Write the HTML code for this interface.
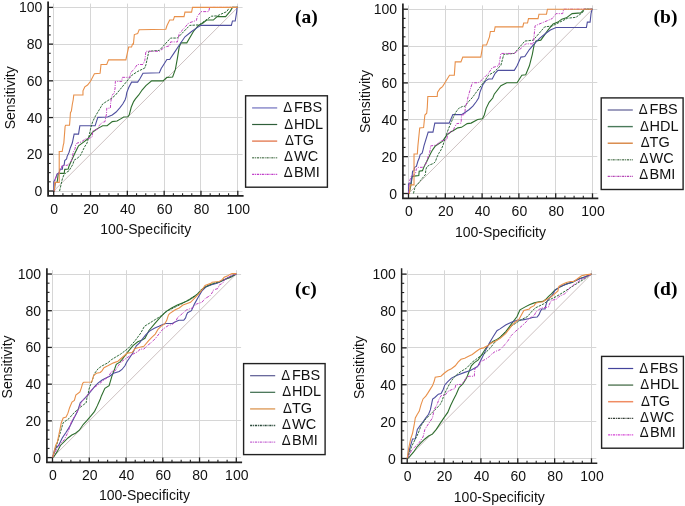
<!DOCTYPE html>
<html><head><meta charset="utf-8"><style>
html,body{margin:0;padding:0;background:#fff;}
svg{display:block;will-change:transform;}
.t{font-family:"Liberation Sans", sans-serif;font-size:14px;fill:#111;}
.l{font-family:"Liberation Sans", sans-serif;font-size:14.5px;fill:#111;}
.p{font-family:"Liberation Serif", serif;font-weight:bold;font-size:19.5px;fill:#000;}
</style></head><body>
<svg width="685" height="506" viewBox="0 0 685 506">
<rect width="685" height="506" fill="#fff"/>
<g id="pa"><line x1="53.5" y1="3.6" x2="53.5" y2="195.8" stroke="#d6d6d6" stroke-width="1"/>
<line x1="48.1" y1="191.5" x2="242.6" y2="191.5" stroke="#d6d6d6" stroke-width="1"/>
<line x1="90.5" y1="3.6" x2="90.5" y2="195.8" stroke="#d6d6d6" stroke-width="1"/>
<line x1="48.1" y1="154.5" x2="242.6" y2="154.5" stroke="#d6d6d6" stroke-width="1"/>
<line x1="127.5" y1="3.6" x2="127.5" y2="195.8" stroke="#d6d6d6" stroke-width="1"/>
<line x1="48.1" y1="117.5" x2="242.6" y2="117.5" stroke="#d6d6d6" stroke-width="1"/>
<line x1="164.5" y1="3.6" x2="164.5" y2="195.8" stroke="#d6d6d6" stroke-width="1"/>
<line x1="48.1" y1="80.5" x2="242.6" y2="80.5" stroke="#d6d6d6" stroke-width="1"/>
<line x1="200.5" y1="3.6" x2="200.5" y2="195.8" stroke="#d6d6d6" stroke-width="1"/>
<line x1="48.1" y1="44.5" x2="242.6" y2="44.5" stroke="#d6d6d6" stroke-width="1"/>
<line x1="237.5" y1="3.6" x2="237.5" y2="195.8" stroke="#d6d6d6" stroke-width="1"/>
<line x1="48.1" y1="7.5" x2="242.6" y2="7.5" stroke="#d6d6d6" stroke-width="1"/>
<line x1="53.7" y1="191" x2="237.8" y2="7.4" stroke="#c4b6b6" stroke-width="0.85"/>
<polyline points="53.7,191 54.25,191 55.17,182.92 57.2,182 58.3,173.37 64.19,173.37 64.75,169.34 68.24,168.97 68.98,166.21 71.74,159.97 74.5,153.91 77.08,148.77 78.55,145.83 82.24,143.08 87.57,139.04 92.36,132.43 96.23,129.49 97.99,128.39 102.67,125.82 107.09,125.64 112.24,121.6 117.03,121.05 120.71,118.85 123.66,117.01 127.89,116.83 129.37,114.44 131.21,107.28 133.6,101.59 135.44,98.83 138.75,94.98 142.07,90.02 145.93,85.61 151.64,80.84 163.06,80.84 166.92,77.35 172.63,76.98 175.39,69.46 177.42,58.07 179.26,46.69 181.1,42.83 186.8,42.83 193.43,31.45 198.22,25.76 203.01,23.01 206.69,20.07 213.31,20.07 217.18,16.58 225.65,16.58 230.44,10.89 232.46,7.4 237.8,7.4" fill="none" stroke="#2e6e2e" stroke-width="1.1" stroke-linejoin="miter"/>
<polyline points="53.7,191 53.79,191 53.79,181.82 55.69,178.15 57.11,173.93 59.04,173.37 59.96,169.15 62.35,169.15 62.81,165.85 64.19,164.93 64.75,160.52 66.59,159.05 67.14,156.3 68.98,152.44 70.4,147.67 72.29,143.08 74.14,134.08 78.55,134.08 79.84,125.82 95.12,125.82 96.41,121.6 97.88,117.38 107.46,117.01 112.24,114.99 116.11,112.05 119.79,107.83 122.74,103.97 125.13,99.75 126.05,96.81 126.79,92.59 128.63,87.82 131.57,82.13 137.65,82.13 140.04,78.45 142.99,73.31 159.37,72.76 161.21,68.54 166.92,59.54 169.68,59.54 174.47,52.38 180.18,43.75 184.96,36.78 191.59,31.45 196.38,28.15 200.98,25.39 231.36,25.39 232.46,20.99 235.22,20.99 236.7,11.62 237.06,7.4 237.8,7.4" fill="none" stroke="#4f4f9f" stroke-width="1.1" stroke-linejoin="miter"/>
<polyline points="59.59,191 62.35,178.88 63.83,175.03 65.85,172.82 68.98,170.8 72.85,164.38 74.14,160.16 77.45,158.14 80.39,155.57 82.24,151.71 84.63,146.75 87.02,143.08 88.86,136.84 90.89,127.29 92.73,121.6 95.49,115.91 97.88,112.05 102.67,103.97 107.46,100.85 112.24,97.91 115.56,94.98 131.57,75.52 137.28,71.66 144.83,67.99 145.93,64.68 148.88,51.28 159.37,50.36 170.6,38.06 177.42,38.06 189.75,25.39 199.14,24.84 211.47,16.21 217.18,15.85 226.75,11.62 229.52,7.4 237.8,7.4" fill="none" stroke="#2f6a3a" stroke-width="1.0" stroke-dasharray="2.5,1" stroke-linejoin="miter"/>
<polyline points="53.7,191 54.62,191 55.17,179.07 57.12,174.29 59.96,171.54 61.43,168.6 61.8,165.85 63.27,165.3 67.14,165.3 68.43,164.38 70.45,161.99 71.74,160.16 73.21,152.44 75.06,148.77 75.61,144.92 77.08,143.08 81.31,141.98 85.18,139.04 89.78,138.12 92.18,136.84 92.73,130.96 95.49,129.86 97.88,129.13 99.36,125.27 102.3,122.52 105.06,121.6 105.62,117.74 106.54,113.89 106.72,108.2 110.4,108.2 110.59,103.61 111.32,98.83 112.24,94.98 113.53,93.69 114.45,93.14 114.45,90.39 115.01,89.1 115.37,81.39 121.82,81.39 122.19,77.35 129.73,77.35 130.65,73.13 131.94,71.29 134.34,68.91 137.28,64.5 142.99,64.5 144.83,60.28 145.93,51.28 159.37,51.28 164.9,47.06 169.68,45.77 170.6,41.92 177.42,41.92 179.26,33.29 182.94,29.62 188.65,23.01 196.38,20.44 197.3,16.58 200.98,11.62 208.71,11.62 209.63,7.4 237.8,7.4" fill="none" stroke="#c040c0" stroke-width="1.0" stroke-dasharray="3,1.2,1,1.2" stroke-linejoin="miter"/>
<polyline points="53.7,191 54.25,191 54.8,182.37 59.22,182.37 59.22,151.53 62.17,151.53 63.27,145.1 63.83,143.08 65.11,126.37 65.67,125.27 69.53,125.27 69.9,120.68 70.45,112.6 71.37,111.13 72.29,104.52 73.21,99.75 73.77,94.98 82.97,94.98 82.97,90.75 84.81,86.9 87.57,85.06 90.52,81.21 94.39,73.68 100.09,73.31 101.01,64.5 106.72,64.5 108.56,59.91 125.87,59.91 128.63,47.06 131.57,47.06 132.49,44.12 133.42,44.12 134.34,34.57 137.65,33.65 139.12,29.8 165.82,29.25 166.92,25.76 169.68,20.07 173.37,20.07 174.47,16.58 184.04,16.58 184.96,12.17 191.59,12.17 192.51,7.4 237.8,7.4" fill="none" stroke="#e8904a" stroke-width="1.1" stroke-linejoin="miter"/>
<path d="M48.1,1.6 V195.8 H243.6" fill="none" stroke="#222" stroke-width="1.8"/>
<line x1="48.1" y1="191" x2="53.1" y2="191" stroke="#222" stroke-width="1.3"/>
<line x1="53.7" y1="195.8" x2="53.7" y2="190.8" stroke="#222" stroke-width="1.3"/>
<line x1="48.1" y1="181.82" x2="50.7" y2="181.82" stroke="#222" stroke-width="1.1"/>
<line x1="62.91" y1="195.8" x2="62.91" y2="193.2" stroke="#222" stroke-width="1.1"/>
<line x1="48.1" y1="172.64" x2="50.7" y2="172.64" stroke="#222" stroke-width="1.1"/>
<line x1="72.11" y1="195.8" x2="72.11" y2="193.2" stroke="#222" stroke-width="1.1"/>
<line x1="48.1" y1="163.46" x2="50.7" y2="163.46" stroke="#222" stroke-width="1.1"/>
<line x1="81.31" y1="195.8" x2="81.31" y2="193.2" stroke="#222" stroke-width="1.1"/>
<line x1="48.1" y1="154.28" x2="53.1" y2="154.28" stroke="#222" stroke-width="1.3"/>
<line x1="90.52" y1="195.8" x2="90.52" y2="190.8" stroke="#222" stroke-width="1.3"/>
<line x1="48.1" y1="145.1" x2="50.7" y2="145.1" stroke="#222" stroke-width="1.1"/>
<line x1="99.73" y1="195.8" x2="99.73" y2="193.2" stroke="#222" stroke-width="1.1"/>
<line x1="48.1" y1="135.92" x2="50.7" y2="135.92" stroke="#222" stroke-width="1.1"/>
<line x1="108.93" y1="195.8" x2="108.93" y2="193.2" stroke="#222" stroke-width="1.1"/>
<line x1="48.1" y1="126.74" x2="50.7" y2="126.74" stroke="#222" stroke-width="1.1"/>
<line x1="118.14" y1="195.8" x2="118.14" y2="193.2" stroke="#222" stroke-width="1.1"/>
<line x1="48.1" y1="117.56" x2="53.1" y2="117.56" stroke="#222" stroke-width="1.3"/>
<line x1="127.34" y1="195.8" x2="127.34" y2="190.8" stroke="#222" stroke-width="1.3"/>
<line x1="48.1" y1="108.38" x2="50.7" y2="108.38" stroke="#222" stroke-width="1.1"/>
<line x1="136.55" y1="195.8" x2="136.55" y2="193.2" stroke="#222" stroke-width="1.1"/>
<line x1="48.1" y1="99.2" x2="50.7" y2="99.2" stroke="#222" stroke-width="1.1"/>
<line x1="145.75" y1="195.8" x2="145.75" y2="193.2" stroke="#222" stroke-width="1.1"/>
<line x1="48.1" y1="90.02" x2="50.7" y2="90.02" stroke="#222" stroke-width="1.1"/>
<line x1="154.96" y1="195.8" x2="154.96" y2="193.2" stroke="#222" stroke-width="1.1"/>
<line x1="48.1" y1="80.84" x2="53.1" y2="80.84" stroke="#222" stroke-width="1.3"/>
<line x1="164.16" y1="195.8" x2="164.16" y2="190.8" stroke="#222" stroke-width="1.3"/>
<line x1="48.1" y1="71.66" x2="50.7" y2="71.66" stroke="#222" stroke-width="1.1"/>
<line x1="173.37" y1="195.8" x2="173.37" y2="193.2" stroke="#222" stroke-width="1.1"/>
<line x1="48.1" y1="62.48" x2="50.7" y2="62.48" stroke="#222" stroke-width="1.1"/>
<line x1="182.57" y1="195.8" x2="182.57" y2="193.2" stroke="#222" stroke-width="1.1"/>
<line x1="48.1" y1="53.3" x2="50.7" y2="53.3" stroke="#222" stroke-width="1.1"/>
<line x1="191.78" y1="195.8" x2="191.78" y2="193.2" stroke="#222" stroke-width="1.1"/>
<line x1="48.1" y1="44.12" x2="53.1" y2="44.12" stroke="#222" stroke-width="1.3"/>
<line x1="200.98" y1="195.8" x2="200.98" y2="190.8" stroke="#222" stroke-width="1.3"/>
<line x1="48.1" y1="34.94" x2="50.7" y2="34.94" stroke="#222" stroke-width="1.1"/>
<line x1="210.19" y1="195.8" x2="210.19" y2="193.2" stroke="#222" stroke-width="1.1"/>
<line x1="48.1" y1="25.76" x2="50.7" y2="25.76" stroke="#222" stroke-width="1.1"/>
<line x1="219.39" y1="195.8" x2="219.39" y2="193.2" stroke="#222" stroke-width="1.1"/>
<line x1="48.1" y1="16.58" x2="50.7" y2="16.58" stroke="#222" stroke-width="1.1"/>
<line x1="228.6" y1="195.8" x2="228.6" y2="193.2" stroke="#222" stroke-width="1.1"/>
<line x1="48.1" y1="7.4" x2="53.1" y2="7.4" stroke="#222" stroke-width="1.3"/>
<line x1="237.8" y1="195.8" x2="237.8" y2="190.8" stroke="#222" stroke-width="1.3"/>
<text x="42.3" y="196" text-anchor="end" class="t">0</text>
<text x="54.2" y="213.5" text-anchor="middle" class="t">0</text>
<text x="42.3" y="159.28" text-anchor="end" class="t">20</text>
<text x="91.02" y="213.5" text-anchor="middle" class="t">20</text>
<text x="42.3" y="122.56" text-anchor="end" class="t">40</text>
<text x="127.84" y="213.5" text-anchor="middle" class="t">40</text>
<text x="42.3" y="85.84" text-anchor="end" class="t">60</text>
<text x="164.66" y="213.5" text-anchor="middle" class="t">60</text>
<text x="42.3" y="49.12" text-anchor="end" class="t">80</text>
<text x="201.48" y="213.5" text-anchor="middle" class="t">80</text>
<text x="42.3" y="12.4" text-anchor="end" class="t">100</text>
<text x="238.3" y="213.5" text-anchor="middle" class="t">100</text>
<text x="145.75" y="233.7" text-anchor="middle" class="t">100-Specificity</text>
<text transform="translate(15.3,97.8) rotate(-90)" text-anchor="middle" class="t">Sensitivity</text>
<text x="295" y="22.7" class="p">(a)</text>
<rect x="245.6" y="95.8" width="81.8" height="91.4" fill="#fff" stroke="#222" stroke-width="1.4"/>
<line x1="252.1" y1="107.9" x2="277.2" y2="107.9" stroke="#9a9ad2" stroke-width="1.7"/>
<text transform="translate(283.2,112.2) scale(0.92,1)" class="l">Δ</text>
<text x="294" y="112.2" class="l">FBS</text>
<line x1="252.1" y1="124.5" x2="277.2" y2="124.5" stroke="#2f5f3a" stroke-width="1.2"/>
<text transform="translate(284.35,128.6) scale(0.92,1)" class="l">Δ</text>
<text x="294" y="128.6" class="l">HDL</text>
<line x1="252.1" y1="141.1" x2="277.2" y2="141.1" stroke="#e2744a" stroke-width="1.3"/>
<text transform="translate(285.05,145) scale(0.92,1)" class="l">Δ</text>
<text x="294" y="145" class="l">TG</text>
<line x1="252.1" y1="157.7" x2="277.2" y2="157.7" stroke="#6f8f70" stroke-width="1.5" stroke-dasharray="2.2,0.8,1,0.8"/>
<text transform="translate(284,161.3) scale(0.92,1)" class="l">Δ</text>
<text x="294" y="161.3" class="l">WC</text>
<line x1="252.1" y1="174.3" x2="277.2" y2="174.3" stroke="#c03cc8" stroke-width="1.2" stroke-dasharray="2.2,0.8,1,0.8"/>
<text transform="translate(283.75,176.7) scale(0.92,1)" class="l">Δ</text>
<text x="294" y="176.7" class="l">BMI</text></g>
<g id="pb"><line x1="408.5" y1="5.4" x2="408.5" y2="198.3" stroke="#d6d6d6" stroke-width="1"/>
<line x1="402.9" y1="193.5" x2="597.3" y2="193.5" stroke="#d6d6d6" stroke-width="1"/>
<line x1="445.5" y1="5.4" x2="445.5" y2="198.3" stroke="#d6d6d6" stroke-width="1"/>
<line x1="402.9" y1="156.5" x2="597.3" y2="156.5" stroke="#d6d6d6" stroke-width="1"/>
<line x1="482.5" y1="5.4" x2="482.5" y2="198.3" stroke="#d6d6d6" stroke-width="1"/>
<line x1="402.9" y1="119.5" x2="597.3" y2="119.5" stroke="#d6d6d6" stroke-width="1"/>
<line x1="518.5" y1="5.4" x2="518.5" y2="198.3" stroke="#d6d6d6" stroke-width="1"/>
<line x1="402.9" y1="82.5" x2="597.3" y2="82.5" stroke="#d6d6d6" stroke-width="1"/>
<line x1="555.5" y1="5.4" x2="555.5" y2="198.3" stroke="#d6d6d6" stroke-width="1"/>
<line x1="402.9" y1="46.5" x2="597.3" y2="46.5" stroke="#d6d6d6" stroke-width="1"/>
<line x1="592.5" y1="5.4" x2="592.5" y2="198.3" stroke="#d6d6d6" stroke-width="1"/>
<line x1="402.9" y1="9.5" x2="597.3" y2="9.5" stroke="#d6d6d6" stroke-width="1"/>
<line x1="408.5" y1="193.5" x2="592.5" y2="9.2" stroke="#c4b6b6" stroke-width="0.85"/>
<polyline points="408.5,193.5 409.05,193.5 410.23,188.71 411.17,183.92 412.18,176.36 418.8,175.44 419.17,171.2 422.48,170.65 423.59,167.88 424.88,164.93 426.9,161.25 428.74,157.38 430.58,153.51 432.6,149.82 435.36,145.95 442.36,141.34 447.14,134.71 451,131.76 453.03,130.65 457.81,127.89 461.49,127.34 467.2,123.65 471.06,123.1 477.68,119.41 482.47,118.86 484.31,114.99 486.15,108.35 489.09,102.27 492.77,98.03 494.24,94.16 500.87,85.68 506.76,82.74 517.06,82.74 521.84,75.18 525.71,74.81 529.39,65.78 532.33,54.35 534.17,44.77 536.01,41.08 540.8,40.16 548.34,29.66 553.12,23.94 557.91,22.1 561.77,19.15 566.37,17.86 572.08,13.62 580.72,12.89 584.4,9.2 592.5,9.2" fill="none" stroke="#2e6e2e" stroke-width="1.1" stroke-linejoin="miter"/>
<polyline points="408.5,193.5 408.5,183.92 410.71,183.92 412.18,175.44 412.55,171.2 414.02,170.65 414.57,167.33 416.41,166.41 417.88,161.25 419.17,158.3 420.18,154.61 422.12,153.14 423.04,149.82 423.96,145.95 428.19,132.13 432.97,132.13 434.81,123.1 449.16,123.1 452.84,114.62 461.49,114.62 465.36,112.22 469.22,109.46 472.9,106.14 476.21,101.72 478.6,98.03 479.89,92.32 482.84,84.76 485.6,80.89 488.54,79.05 492.22,79.05 495.16,73.34 497.92,70.39 514.3,70.39 517.06,65.78 520.92,57.12 524.79,56.57 529.39,49.56 535.09,42.93 539.88,38.14 545.58,33.53 550.36,30.03 556.07,27.45 586.43,27.45 587.35,22.1 590.11,22.1 591.03,13.62 592.13,9.2 592.5,9.2" fill="none" stroke="#4f4f9f" stroke-width="1.1" stroke-linejoin="miter"/>
<polyline points="413.47,193.5 414.57,188.71 416.41,184.84 417.88,183.92 420.64,180.23 423.96,176.36 425.43,174.52 425.8,169.73 426.9,166.78 429.66,164.93 433.52,163.46 435.36,161.62 436.84,157.38 438.68,153.51 441.07,149.82 442.91,145.58 445.85,136 448.61,128.44 451.56,121.62 453.03,117.94 455.79,112.22 458.73,108.35 462.41,106.51 465.36,106.14 467.2,103.19 470.51,99.51 471.98,98.03 484.68,80.89 488.54,75.18 494.24,71.86 500.87,65.41 503.81,54.35 514.3,53.43 524.79,41.08 533.25,40.16 544.66,26.89 552.2,25.97 567.48,18.23 575.94,17.31 582.56,12.52 584.4,9.2 592.5,9.2" fill="none" stroke="#2f6a3a" stroke-width="1.0" stroke-dasharray="2.5,1" stroke-linejoin="miter"/>
<polyline points="408.5,193.5 408.79,193.5 409.27,182.07 411.17,176.36 413.1,175.44 415.49,173.6 416.41,168.8 417.88,167.33 422.48,167.33 425.43,164.93 427.27,159.22 429.29,153.51 430.21,149.82 430.58,145.95 436.28,145.03 439.6,142.08 441.62,140.61 446.77,139.68 447.69,133.6 451.56,131.21 453.03,131.21 454.5,127.34 456.71,123.65 461.12,123.1 461.49,114.99 464.8,114.62 465.36,107.06 467.2,101.72 467.75,98.03 470.51,88.45 472.35,82.74 478.05,82.74 480.81,80.89 485.6,76.1 488.54,73.34 492.22,67.62 498.84,65.78 499.76,60.07 500.87,53.43 514.3,53.43 521.84,47.72 525.71,43.85 533.25,43.85 535.09,25.79 541.72,23.02 552.2,18.6 556.07,13.62 562.69,13.62 563.61,9.2 592.5,9.2" fill="none" stroke="#c040c0" stroke-width="1.0" stroke-dasharray="3,1.2,1,1.2" stroke-linejoin="miter"/>
<polyline points="408.5,193.5 409.42,193.5 410.23,184.84 414.02,184.84 414.02,154.06 417.33,154.06 417.88,145.95 419.72,127.89 423.59,127.52 424.88,114.99 426.72,113.15 427.27,107.43 427.82,96.56 437.2,96.56 437.57,92.13 440.15,88.45 442.54,86.61 444.93,82.74 449.53,75.18 454.32,75.18 455.24,61.91 460.94,61.91 462.78,57.12 480.81,57.12 482.84,44.95 486.52,44.95 489.46,36.84 490.38,31.5 494.24,31.5 495.16,26.89 522.76,26.89 523.68,23.02 527.55,23.02 528.47,18.6 538.04,18.6 538.96,14.18 546.5,14.18 547.42,9.2 592.5,9.2" fill="none" stroke="#e8904a" stroke-width="1.1" stroke-linejoin="miter"/>
<path d="M402.9,3.4 V198.3 H598.3" fill="none" stroke="#222" stroke-width="1.7"/>
<line x1="402.9" y1="193.5" x2="407.9" y2="193.5" stroke="#222" stroke-width="1.3"/>
<line x1="408.5" y1="198.3" x2="408.5" y2="193.3" stroke="#222" stroke-width="1.3"/>
<line x1="402.9" y1="184.28" x2="405.5" y2="184.28" stroke="#222" stroke-width="1.1"/>
<line x1="417.7" y1="198.3" x2="417.7" y2="195.7" stroke="#222" stroke-width="1.1"/>
<line x1="402.9" y1="175.07" x2="405.5" y2="175.07" stroke="#222" stroke-width="1.1"/>
<line x1="426.9" y1="198.3" x2="426.9" y2="195.7" stroke="#222" stroke-width="1.1"/>
<line x1="402.9" y1="165.85" x2="405.5" y2="165.85" stroke="#222" stroke-width="1.1"/>
<line x1="436.1" y1="198.3" x2="436.1" y2="195.7" stroke="#222" stroke-width="1.1"/>
<line x1="402.9" y1="156.64" x2="407.9" y2="156.64" stroke="#222" stroke-width="1.3"/>
<line x1="445.3" y1="198.3" x2="445.3" y2="193.3" stroke="#222" stroke-width="1.3"/>
<line x1="402.9" y1="147.43" x2="405.5" y2="147.43" stroke="#222" stroke-width="1.1"/>
<line x1="454.5" y1="198.3" x2="454.5" y2="195.7" stroke="#222" stroke-width="1.1"/>
<line x1="402.9" y1="138.21" x2="405.5" y2="138.21" stroke="#222" stroke-width="1.1"/>
<line x1="463.7" y1="198.3" x2="463.7" y2="195.7" stroke="#222" stroke-width="1.1"/>
<line x1="402.9" y1="129" x2="405.5" y2="129" stroke="#222" stroke-width="1.1"/>
<line x1="472.9" y1="198.3" x2="472.9" y2="195.7" stroke="#222" stroke-width="1.1"/>
<line x1="402.9" y1="119.78" x2="407.9" y2="119.78" stroke="#222" stroke-width="1.3"/>
<line x1="482.1" y1="198.3" x2="482.1" y2="193.3" stroke="#222" stroke-width="1.3"/>
<line x1="402.9" y1="110.56" x2="405.5" y2="110.56" stroke="#222" stroke-width="1.1"/>
<line x1="491.3" y1="198.3" x2="491.3" y2="195.7" stroke="#222" stroke-width="1.1"/>
<line x1="402.9" y1="101.35" x2="405.5" y2="101.35" stroke="#222" stroke-width="1.1"/>
<line x1="500.5" y1="198.3" x2="500.5" y2="195.7" stroke="#222" stroke-width="1.1"/>
<line x1="402.9" y1="92.13" x2="405.5" y2="92.13" stroke="#222" stroke-width="1.1"/>
<line x1="509.7" y1="198.3" x2="509.7" y2="195.7" stroke="#222" stroke-width="1.1"/>
<line x1="402.9" y1="82.92" x2="407.9" y2="82.92" stroke="#222" stroke-width="1.3"/>
<line x1="518.9" y1="198.3" x2="518.9" y2="193.3" stroke="#222" stroke-width="1.3"/>
<line x1="402.9" y1="73.7" x2="405.5" y2="73.7" stroke="#222" stroke-width="1.1"/>
<line x1="528.1" y1="198.3" x2="528.1" y2="195.7" stroke="#222" stroke-width="1.1"/>
<line x1="402.9" y1="64.49" x2="405.5" y2="64.49" stroke="#222" stroke-width="1.1"/>
<line x1="537.3" y1="198.3" x2="537.3" y2="195.7" stroke="#222" stroke-width="1.1"/>
<line x1="402.9" y1="55.27" x2="405.5" y2="55.27" stroke="#222" stroke-width="1.1"/>
<line x1="546.5" y1="198.3" x2="546.5" y2="195.7" stroke="#222" stroke-width="1.1"/>
<line x1="402.9" y1="46.06" x2="407.9" y2="46.06" stroke="#222" stroke-width="1.3"/>
<line x1="555.7" y1="198.3" x2="555.7" y2="193.3" stroke="#222" stroke-width="1.3"/>
<line x1="402.9" y1="36.84" x2="405.5" y2="36.84" stroke="#222" stroke-width="1.1"/>
<line x1="564.9" y1="198.3" x2="564.9" y2="195.7" stroke="#222" stroke-width="1.1"/>
<line x1="402.9" y1="27.63" x2="405.5" y2="27.63" stroke="#222" stroke-width="1.1"/>
<line x1="574.1" y1="198.3" x2="574.1" y2="195.7" stroke="#222" stroke-width="1.1"/>
<line x1="402.9" y1="18.41" x2="405.5" y2="18.41" stroke="#222" stroke-width="1.1"/>
<line x1="583.3" y1="198.3" x2="583.3" y2="195.7" stroke="#222" stroke-width="1.1"/>
<line x1="402.9" y1="9.2" x2="407.9" y2="9.2" stroke="#222" stroke-width="1.3"/>
<line x1="592.5" y1="198.3" x2="592.5" y2="193.3" stroke="#222" stroke-width="1.3"/>
<text x="397.1" y="198.5" text-anchor="end" class="t">0</text>
<text x="409" y="216" text-anchor="middle" class="t">0</text>
<text x="397.1" y="161.64" text-anchor="end" class="t">20</text>
<text x="445.8" y="216" text-anchor="middle" class="t">20</text>
<text x="397.1" y="124.78" text-anchor="end" class="t">40</text>
<text x="482.6" y="216" text-anchor="middle" class="t">40</text>
<text x="397.1" y="87.92" text-anchor="end" class="t">60</text>
<text x="519.4" y="216" text-anchor="middle" class="t">60</text>
<text x="397.1" y="51.06" text-anchor="end" class="t">80</text>
<text x="556.2" y="216" text-anchor="middle" class="t">80</text>
<text x="397.1" y="14.2" text-anchor="end" class="t">100</text>
<text x="593" y="216" text-anchor="middle" class="t">100</text>
<text x="500.5" y="237" text-anchor="middle" class="t">100-Specificity</text>
<text transform="translate(369.9,101.55) rotate(-90)" text-anchor="middle" class="t">Sensitivity</text>
<text x="653.6" y="23.1" class="p">(b)</text>
<rect x="601.2" y="97.9" width="81.9" height="91.6" fill="#fff" stroke="#222" stroke-width="1.4"/>
<line x1="607.7" y1="110" x2="632.8" y2="110" stroke="#7474a4" stroke-width="1.4"/>
<text transform="translate(638.8,114.3) scale(0.92,1)" class="l">Δ</text>
<text x="649.6" y="114.3" class="l">FBS</text>
<line x1="607.7" y1="126.6" x2="632.8" y2="126.6" stroke="#4a7a5a" stroke-width="1.4"/>
<text transform="translate(639.95,130.7) scale(0.92,1)" class="l">Δ</text>
<text x="649.6" y="130.7" class="l">HDL</text>
<line x1="607.7" y1="143.2" x2="632.8" y2="143.2" stroke="#d47a32" stroke-width="1.3"/>
<text transform="translate(640.65,147.1) scale(0.92,1)" class="l">Δ</text>
<text x="649.6" y="147.1" class="l">TG</text>
<line x1="607.7" y1="159.8" x2="632.8" y2="159.8" stroke="#6a8a6c" stroke-width="1.5" stroke-dasharray="2.2,0.8,1,0.8"/>
<text transform="translate(639.6,163.4) scale(0.92,1)" class="l">Δ</text>
<text x="649.6" y="163.4" class="l">WC</text>
<line x1="607.7" y1="176.4" x2="632.8" y2="176.4" stroke="#b444b4" stroke-width="1.3" stroke-dasharray="2.2,0.8,1,0.8"/>
<text transform="translate(639.35,178.8) scale(0.92,1)" class="l">Δ</text>
<text x="649.6" y="178.8" class="l">BMI</text></g>
<g id="pc"><line x1="52.5" y1="270.2" x2="52.5" y2="462.4" stroke="#d6d6d6" stroke-width="1"/>
<line x1="46.9" y1="457.5" x2="241.1" y2="457.5" stroke="#d6d6d6" stroke-width="1"/>
<line x1="89.5" y1="270.2" x2="89.5" y2="462.4" stroke="#d6d6d6" stroke-width="1"/>
<line x1="46.9" y1="420.5" x2="241.1" y2="420.5" stroke="#d6d6d6" stroke-width="1"/>
<line x1="126.5" y1="270.2" x2="126.5" y2="462.4" stroke="#d6d6d6" stroke-width="1"/>
<line x1="46.9" y1="384.5" x2="241.1" y2="384.5" stroke="#d6d6d6" stroke-width="1"/>
<line x1="162.5" y1="270.2" x2="162.5" y2="462.4" stroke="#d6d6d6" stroke-width="1"/>
<line x1="46.9" y1="347.5" x2="241.1" y2="347.5" stroke="#d6d6d6" stroke-width="1"/>
<line x1="199.5" y1="270.2" x2="199.5" y2="462.4" stroke="#d6d6d6" stroke-width="1"/>
<line x1="46.9" y1="310.5" x2="241.1" y2="310.5" stroke="#d6d6d6" stroke-width="1"/>
<line x1="236.5" y1="270.2" x2="236.5" y2="462.4" stroke="#d6d6d6" stroke-width="1"/>
<line x1="46.9" y1="274.5" x2="241.1" y2="274.5" stroke="#d6d6d6" stroke-width="1"/>
<line x1="52.5" y1="457.6" x2="236.3" y2="274" stroke="#c4b6b6" stroke-width="0.85"/>
<polyline points="52.5,457.6 53.79,456.87 57.46,451.17 60.4,445.48 64.26,441.63 67.94,437.95 71.8,435.02 75.47,433.18 79.33,430.24 83.19,424.55 86.87,420.7 90.73,416.11 94.59,411.33 97.35,405.64 100.29,399.03 101.39,395.91 104.88,388.38 109.11,385.63 112.05,375.71 114.81,368.55 116.28,364.33 119.77,362.13 121.98,359.56 128.23,351.3 133,345.6 137.78,341.75 141.64,340.28 144.95,338.26 148.81,330.73 154.51,323.94 160.21,317.33 165.9,311.64 171.6,307.97 177.3,305.03 183,302.64 188.7,300.25 194.39,296.58 200.09,291.81 203.77,287.95 208.55,285.2 213.33,283.73 219.02,282.26 224.72,279.51 230.42,277.49 236.3,274" fill="none" stroke="#2e6e2e" stroke-width="1.1" stroke-linejoin="miter"/>
<polyline points="52.5,457.6 54.71,449.34 58.57,445.48 62.24,437.95 66.1,432.26 69.78,426.39 73.64,418.86 77.5,411.33 80.25,402.7 83.19,399.95 86.87,396.09 90.73,391.32 94.59,386.73 98.27,382.87 102.13,379.94 105.99,378.1 109.66,376.27 113.52,373.33 119.22,371.49 121.98,369.47 124.92,365.8 126.76,361.94 128.59,359.19 132.45,353.5 136.31,345.79 139.99,342.48 141.83,339.73 145.69,334.96 149.55,331.1 154.33,328.35 158.92,326.33 162.78,324.49 165.72,323.57 172.34,323.57 176.01,321.55 178.95,320.27 183.73,320.27 185.57,317.88 186.49,314.94 187.59,312.74 191.45,310.72 194.39,304.11 198.07,297.5 201.93,290.89 205.79,287.04 211.49,284.83 217,283.18 222.7,280.43 228.4,277.49 236.3,274" fill="none" stroke="#4f4f9f" stroke-width="1.1" stroke-linejoin="miter"/>
<polyline points="52.5,457.6 56.54,445.48 63.16,422.72 68.86,418.68 74.37,412.43 79.89,407.66 83.75,404.54 86.14,402.89 86.87,398.11 88.16,394.26 88.89,389.48 90.55,384.71 92.38,379.94 94.59,373.33 98.27,368.55 102.13,365.8 107.82,362.86 111.32,359.74 120.69,354.05 128.23,348.36 135.03,340.83 140.72,333.12 144.4,326.33 152.67,321.19 160.21,316.41 167.74,310.72 175.28,307.05 183,303.19 190.53,298.42 196.23,294.75 201.93,288.87 207.63,286.12 213.33,283.36 220.86,281.34 226.56,278.59 232.26,275.65 236.3,274" fill="none" stroke="#2f6a3a" stroke-width="1.0" stroke-dasharray="2.5,1" stroke-linejoin="miter"/>
<polyline points="52.5,457.6 56.54,449.34 60.4,443.65 64.26,439.79 67.94,432.26 71.8,420.7 75.47,415.19 79.33,407.48 82.28,400.87 85.03,398.11 88.89,393.34 92.57,388.57 98.27,384.71 103.96,379.94 107.82,377.18 111.68,371.49 115.36,370.57 118.3,365.8 121.06,361.94 124.92,359.19 130.62,355.33 138.15,351.48 139.99,349.09 143.85,349.09 147.52,345.42 151.38,342.48 155.24,338.63 158.92,334.04 162.78,329.26 165.72,327.24 168.48,325.41 172.34,324.49 174.18,322.65 176.01,320.63 178.04,316.96 180.79,314.94 186.67,309.8 192.37,307.97 196.23,304.11 201.93,302.27 205.05,298.6 210.02,295.66 212.04,292.91 213.51,289.97 217.92,288.5 219.21,285.02 222.7,283.18 224.17,280.79 224.9,279.32 228.4,277.3 230.6,275.84 233.36,274.73 236.3,274" fill="none" stroke="#c040c0" stroke-width="1.0" stroke-dasharray="3,1.2,1,1.2" stroke-linejoin="miter"/>
<polyline points="52.5,457.6 52.87,456.87 55.62,445.48 57.46,441.63 61.32,422.72 63.16,417.94 66.1,417.02 67.94,413.17 69.59,407.66 71.98,402.15 74.37,400.5 75.84,394.99 79.89,391.87 81.36,387.83 82.64,383.24 83.75,382.32 91.65,381.96 92.38,379.94 93.67,375.35 96.43,373.33 100.29,372.41 102.13,370.57 103.96,367.64 107.82,365.8 113.52,362.86 117.93,361.21 122.71,356.99 127.31,353.13 132.09,352.58 135.03,348.36 138.7,347.44 143.85,346.34 148.63,340.65 152.3,336.79 155.24,334.04 158,329.26 160.94,326.33 164.62,323.94 166.64,320.63 168.48,314.94 169.58,313.66 175.28,309.8 179.14,307.97 183,305.03 190.53,302.27 194.39,298.42 198.07,294.75 201.93,289.97 205.05,285.38 211.49,283 212.04,282.26 219.21,281.53 222.15,279.69 224.17,277.3 227.85,275.84 229.87,274.37 232.07,273.63 236.3,273.63" fill="none" stroke="#e8904a" stroke-width="1.1" stroke-linejoin="miter"/>
<path d="M46.9,268.2 V462.4 H242.1" fill="none" stroke="#222" stroke-width="1.7"/>
<line x1="46.9" y1="457.6" x2="51.9" y2="457.6" stroke="#222" stroke-width="1.3"/>
<line x1="52.5" y1="462.4" x2="52.5" y2="457.4" stroke="#222" stroke-width="1.3"/>
<line x1="46.9" y1="448.42" x2="49.5" y2="448.42" stroke="#222" stroke-width="1.1"/>
<line x1="61.69" y1="462.4" x2="61.69" y2="459.8" stroke="#222" stroke-width="1.1"/>
<line x1="46.9" y1="439.24" x2="49.5" y2="439.24" stroke="#222" stroke-width="1.1"/>
<line x1="70.88" y1="462.4" x2="70.88" y2="459.8" stroke="#222" stroke-width="1.1"/>
<line x1="46.9" y1="430.06" x2="49.5" y2="430.06" stroke="#222" stroke-width="1.1"/>
<line x1="80.07" y1="462.4" x2="80.07" y2="459.8" stroke="#222" stroke-width="1.1"/>
<line x1="46.9" y1="420.88" x2="51.9" y2="420.88" stroke="#222" stroke-width="1.3"/>
<line x1="89.26" y1="462.4" x2="89.26" y2="457.4" stroke="#222" stroke-width="1.3"/>
<line x1="46.9" y1="411.7" x2="49.5" y2="411.7" stroke="#222" stroke-width="1.1"/>
<line x1="98.45" y1="462.4" x2="98.45" y2="459.8" stroke="#222" stroke-width="1.1"/>
<line x1="46.9" y1="402.52" x2="49.5" y2="402.52" stroke="#222" stroke-width="1.1"/>
<line x1="107.64" y1="462.4" x2="107.64" y2="459.8" stroke="#222" stroke-width="1.1"/>
<line x1="46.9" y1="393.34" x2="49.5" y2="393.34" stroke="#222" stroke-width="1.1"/>
<line x1="116.83" y1="462.4" x2="116.83" y2="459.8" stroke="#222" stroke-width="1.1"/>
<line x1="46.9" y1="384.16" x2="51.9" y2="384.16" stroke="#222" stroke-width="1.3"/>
<line x1="126.02" y1="462.4" x2="126.02" y2="457.4" stroke="#222" stroke-width="1.3"/>
<line x1="46.9" y1="374.98" x2="49.5" y2="374.98" stroke="#222" stroke-width="1.1"/>
<line x1="135.21" y1="462.4" x2="135.21" y2="459.8" stroke="#222" stroke-width="1.1"/>
<line x1="46.9" y1="365.8" x2="49.5" y2="365.8" stroke="#222" stroke-width="1.1"/>
<line x1="144.4" y1="462.4" x2="144.4" y2="459.8" stroke="#222" stroke-width="1.1"/>
<line x1="46.9" y1="356.62" x2="49.5" y2="356.62" stroke="#222" stroke-width="1.1"/>
<line x1="153.59" y1="462.4" x2="153.59" y2="459.8" stroke="#222" stroke-width="1.1"/>
<line x1="46.9" y1="347.44" x2="51.9" y2="347.44" stroke="#222" stroke-width="1.3"/>
<line x1="162.78" y1="462.4" x2="162.78" y2="457.4" stroke="#222" stroke-width="1.3"/>
<line x1="46.9" y1="338.26" x2="49.5" y2="338.26" stroke="#222" stroke-width="1.1"/>
<line x1="171.97" y1="462.4" x2="171.97" y2="459.8" stroke="#222" stroke-width="1.1"/>
<line x1="46.9" y1="329.08" x2="49.5" y2="329.08" stroke="#222" stroke-width="1.1"/>
<line x1="181.16" y1="462.4" x2="181.16" y2="459.8" stroke="#222" stroke-width="1.1"/>
<line x1="46.9" y1="319.9" x2="49.5" y2="319.9" stroke="#222" stroke-width="1.1"/>
<line x1="190.35" y1="462.4" x2="190.35" y2="459.8" stroke="#222" stroke-width="1.1"/>
<line x1="46.9" y1="310.72" x2="51.9" y2="310.72" stroke="#222" stroke-width="1.3"/>
<line x1="199.54" y1="462.4" x2="199.54" y2="457.4" stroke="#222" stroke-width="1.3"/>
<line x1="46.9" y1="301.54" x2="49.5" y2="301.54" stroke="#222" stroke-width="1.1"/>
<line x1="208.73" y1="462.4" x2="208.73" y2="459.8" stroke="#222" stroke-width="1.1"/>
<line x1="46.9" y1="292.36" x2="49.5" y2="292.36" stroke="#222" stroke-width="1.1"/>
<line x1="217.92" y1="462.4" x2="217.92" y2="459.8" stroke="#222" stroke-width="1.1"/>
<line x1="46.9" y1="283.18" x2="49.5" y2="283.18" stroke="#222" stroke-width="1.1"/>
<line x1="227.11" y1="462.4" x2="227.11" y2="459.8" stroke="#222" stroke-width="1.1"/>
<line x1="46.9" y1="274" x2="51.9" y2="274" stroke="#222" stroke-width="1.3"/>
<line x1="236.3" y1="462.4" x2="236.3" y2="457.4" stroke="#222" stroke-width="1.3"/>
<text x="41.1" y="462.6" text-anchor="end" class="t">0</text>
<text x="53" y="480.1" text-anchor="middle" class="t">0</text>
<text x="41.1" y="425.88" text-anchor="end" class="t">20</text>
<text x="89.76" y="480.1" text-anchor="middle" class="t">20</text>
<text x="41.1" y="389.16" text-anchor="end" class="t">40</text>
<text x="126.52" y="480.1" text-anchor="middle" class="t">40</text>
<text x="41.1" y="352.44" text-anchor="end" class="t">60</text>
<text x="163.28" y="480.1" text-anchor="middle" class="t">60</text>
<text x="41.1" y="315.72" text-anchor="end" class="t">80</text>
<text x="200.04" y="480.1" text-anchor="middle" class="t">80</text>
<text x="41.1" y="279" text-anchor="end" class="t">100</text>
<text x="236.8" y="480.1" text-anchor="middle" class="t">100</text>
<text x="144.4" y="500.3" text-anchor="middle" class="t">100-Specificity</text>
<text transform="translate(12.1,366.9) rotate(-90)" text-anchor="middle" class="t">Sensitivity</text>
<text x="295" y="294.5" class="p">(c)</text>
<rect x="243.6" y="363.6" width="81.5" height="91" fill="#fff" stroke="#222" stroke-width="1.4"/>
<line x1="250.1" y1="375.7" x2="275.2" y2="375.7" stroke="#5a5a92" stroke-width="1.2"/>
<text transform="translate(281.2,380) scale(0.92,1)" class="l">Δ</text>
<text x="292" y="380" class="l">FBS</text>
<line x1="250.1" y1="392.3" x2="275.2" y2="392.3" stroke="#3a6a4a" stroke-width="1.2"/>
<text transform="translate(282.35,396.4) scale(0.92,1)" class="l">Δ</text>
<text x="292" y="396.4" class="l">HDL</text>
<line x1="250.1" y1="408.9" x2="275.2" y2="408.9" stroke="#e2aa72" stroke-width="1.6"/>
<text transform="translate(283.05,412.8) scale(0.92,1)" class="l">Δ</text>
<text x="292" y="412.8" class="l">TG</text>
<line x1="250.1" y1="425.5" x2="275.2" y2="425.5" stroke="#2a4a3a" stroke-width="1.3" stroke-dasharray="2.2,0.8,1,0.8"/>
<text transform="translate(282,429.1) scale(0.92,1)" class="l">Δ</text>
<text x="292" y="429.1" class="l">WC</text>
<line x1="250.1" y1="442.1" x2="275.2" y2="442.1" stroke="#c464d2" stroke-width="1.4" stroke-dasharray="2.2,0.8,1,0.8"/>
<text transform="translate(281.75,444.5) scale(0.92,1)" class="l">Δ</text>
<text x="292" y="444.5" class="l">BMI</text></g>
<g id="pd"><line x1="407.5" y1="270.3" x2="407.5" y2="463.3" stroke="#d6d6d6" stroke-width="1"/>
<line x1="401.6" y1="458.5" x2="596.3" y2="458.5" stroke="#d6d6d6" stroke-width="1"/>
<line x1="444.5" y1="270.3" x2="444.5" y2="463.3" stroke="#d6d6d6" stroke-width="1"/>
<line x1="401.6" y1="421.5" x2="596.3" y2="421.5" stroke="#d6d6d6" stroke-width="1"/>
<line x1="480.5" y1="270.3" x2="480.5" y2="463.3" stroke="#d6d6d6" stroke-width="1"/>
<line x1="401.6" y1="384.5" x2="596.3" y2="384.5" stroke="#d6d6d6" stroke-width="1"/>
<line x1="517.5" y1="270.3" x2="517.5" y2="463.3" stroke="#d6d6d6" stroke-width="1"/>
<line x1="401.6" y1="347.5" x2="596.3" y2="347.5" stroke="#d6d6d6" stroke-width="1"/>
<line x1="554.5" y1="270.3" x2="554.5" y2="463.3" stroke="#d6d6d6" stroke-width="1"/>
<line x1="401.6" y1="310.5" x2="596.3" y2="310.5" stroke="#d6d6d6" stroke-width="1"/>
<line x1="591.5" y1="270.3" x2="591.5" y2="463.3" stroke="#d6d6d6" stroke-width="1"/>
<line x1="401.6" y1="274.5" x2="596.3" y2="274.5" stroke="#d6d6d6" stroke-width="1"/>
<line x1="407.2" y1="458.5" x2="591.5" y2="274.1" stroke="#c4b6b6" stroke-width="0.85"/>
<polyline points="407.2,458.5 408.67,457.76 413.47,452.23 417.34,446.51 421.02,442.64 424.89,438.95 428.58,436 432.45,434.16 436.32,429.36 440.01,423.65 443.88,417.93 447.75,412.4 450.51,405.76 453.27,400.05 456.22,394.33 458.99,387.69 462.86,383.82 466.54,378.1 469.49,370.54 471.34,365.75 474.29,362.61 477.97,360.21 481.84,354.5 485.53,348.78 489.4,343.99 493.27,341.22 496.95,339.38 500,337.35 505.62,331.82 511.33,324.07 517.04,316.51 519.99,309.87 524.78,307.11 529.39,304.71 534.18,302.87 538.97,301.76 543.21,301.39 545.61,299.55 548.37,296.6 551.32,293.83 555.01,289.96 560.72,286.64 566.44,283.87 572.15,282.4 575.83,280.55 579.7,278.53 585.42,276.68 591.5,274.1" fill="none" stroke="#2e6e2e" stroke-width="1.1" stroke-linejoin="miter"/>
<polyline points="407.2,458.5 409.78,448.36 412.54,438.95 415.31,438.95 417.34,429.36 420.1,425.68 423.05,421.8 425.81,417.93 428.58,414.24 430.42,409.63 432.63,399.12 434.84,397.46 438.35,394.14 441.11,393.41 443.32,389.17 444.8,384.92 447.56,381.79 451.43,378.1 457.15,375.34 464.7,372.39 470.41,370.54 477.05,366.85 477.97,365.93 481.84,358.19 485.53,350.63 489.4,343.07 493.27,336.43 496.95,330.71 500,328.87 505.62,324.99 511.33,322.23 517.04,320.2 522.76,319.83 529.39,318.54 532.34,317.43 537.13,317.07 538.97,314.67 540.45,311.35 541.74,308.95 545.06,308.95 545.79,305.63 547.08,301.39 548.37,298.99 552.24,295.31 555.01,290.33 560.72,286.27 566.44,284.24 572.15,282.03 577.86,279.45 583.58,277.6 591.5,274.1" fill="none" stroke="#4f4f9f" stroke-width="1.1" stroke-linejoin="miter"/>
<polyline points="407.2,458.5 411.62,446.51 418.26,433.24 421.02,425.68 424.89,419.96 428.58,416.09 432.45,412.22 436.32,408.53 440.01,404.66 442.03,400.97 443.88,395.25 446.64,389.53 449.59,383.82 453.27,378.1 457.15,374.41 461.02,371.46 466.54,368.14 472.26,362.06 475.39,359.85 480.37,355.97 485.16,353.02 489.95,348.41 493.64,343.62 497.51,339.75 500,337.16 511.33,326.1 519.99,320.38 527.55,316.51 531.42,311.9 535.1,308.03 538.97,306.19 543.77,303.79 548.37,300.47 552.24,298.44 556.11,296.6 560.72,293.83 565.51,290.88 568.28,289.04 575.83,284.24 583.58,279.45 591.5,274.1" fill="none" stroke="#2f6a3a" stroke-width="1.0" stroke-dasharray="2.5,1" stroke-linejoin="miter"/>
<polyline points="407.2,458.5 411.62,450.2 415.31,446.51 419.18,442.64 423.05,436.93 424.89,429.36 428.58,423.65 432.45,417.93 434.11,409.82 436.87,404.84 439.08,399.12 441.11,395.62 445.35,394.88 447.93,391.38 451.98,389.53 454.93,388.61 455.86,384.74 461.38,384.37 464.33,381.05 466.18,377.18 469.12,376.26 474.29,376.26 474.84,368.7 477.05,367.22 479.45,364.82 480,362.06 483.68,360.21 487.55,358.19 491.24,354.5 495.11,351.55 500,349.7 503.77,345.83 507.64,341.22 511.33,335.51 515.2,331.63 519.99,327.58 523.86,324.07 530.5,317.43 534.18,315.59 536.03,311.9 538.97,309.5 541.74,308.03 548.37,307.11 549.48,304.16 551.32,300.47 557.04,298.99 558.88,296.6 564.59,293.83 567.36,291.43 568.65,289.04 572.15,286.09 575.83,283.32 579.7,280.55 583.58,278.53 587.26,276.68 591.5,274.1" fill="none" stroke="#c040c0" stroke-width="1.0" stroke-dasharray="3,1.2,1,1.2" stroke-linejoin="miter"/>
<polyline points="407.2,458.5 408.67,448.36 410.7,438.95 412.54,433.24 414.39,423.65 415.31,417.93 417.34,414.24 419.18,411.29 421.02,404.66 423.05,398.94 425.81,396.17 427.66,393.41 430.61,388.61 432.45,385.85 434.29,381.05 435.21,377.18 440.93,376.26 443.88,373.49 447.75,370.54 451.43,368.7 455.3,365.75 458.07,362.06 461.02,359.29 464.7,358.19 468.57,356.34 472.26,354.5 476.13,351.55 480,348.78 483.68,347.86 487.55,345.83 491.24,343.07 495.11,341.22 499.9,338.64 505.62,333.66 511.33,326.1 515.2,322.23 518.89,319.46 519.99,317.43 523.86,310.43 529.39,308.95 530.5,307.48 534.18,305.63 535.66,303.24 538.97,302.31 542.84,301.76 544.69,300.47 547.45,298.99 551.32,296.6 553.17,295.12 557.96,290.88 558.88,286.27 562.56,284.24 566.44,282.4 570.31,281.48 573.99,281.48 577.86,278.53 581.55,275.76 585.42,274.84 591.5,274.1" fill="none" stroke="#e8904a" stroke-width="1.1" stroke-linejoin="miter"/>
<path d="M401.6,268.3 V463.3 H597.3" fill="none" stroke="#222" stroke-width="1.5"/>
<line x1="401.6" y1="458.5" x2="406.6" y2="458.5" stroke="#222" stroke-width="1.3"/>
<line x1="407.2" y1="463.3" x2="407.2" y2="458.3" stroke="#222" stroke-width="1.3"/>
<line x1="401.6" y1="449.28" x2="404.2" y2="449.28" stroke="#222" stroke-width="1.1"/>
<line x1="416.41" y1="463.3" x2="416.41" y2="460.7" stroke="#222" stroke-width="1.1"/>
<line x1="401.6" y1="440.06" x2="404.2" y2="440.06" stroke="#222" stroke-width="1.1"/>
<line x1="425.63" y1="463.3" x2="425.63" y2="460.7" stroke="#222" stroke-width="1.1"/>
<line x1="401.6" y1="430.84" x2="404.2" y2="430.84" stroke="#222" stroke-width="1.1"/>
<line x1="434.84" y1="463.3" x2="434.84" y2="460.7" stroke="#222" stroke-width="1.1"/>
<line x1="401.6" y1="421.62" x2="406.6" y2="421.62" stroke="#222" stroke-width="1.3"/>
<line x1="444.06" y1="463.3" x2="444.06" y2="458.3" stroke="#222" stroke-width="1.3"/>
<line x1="401.6" y1="412.4" x2="404.2" y2="412.4" stroke="#222" stroke-width="1.1"/>
<line x1="453.27" y1="463.3" x2="453.27" y2="460.7" stroke="#222" stroke-width="1.1"/>
<line x1="401.6" y1="403.18" x2="404.2" y2="403.18" stroke="#222" stroke-width="1.1"/>
<line x1="462.49" y1="463.3" x2="462.49" y2="460.7" stroke="#222" stroke-width="1.1"/>
<line x1="401.6" y1="393.96" x2="404.2" y2="393.96" stroke="#222" stroke-width="1.1"/>
<line x1="471.7" y1="463.3" x2="471.7" y2="460.7" stroke="#222" stroke-width="1.1"/>
<line x1="401.6" y1="384.74" x2="406.6" y2="384.74" stroke="#222" stroke-width="1.3"/>
<line x1="480.92" y1="463.3" x2="480.92" y2="458.3" stroke="#222" stroke-width="1.3"/>
<line x1="401.6" y1="375.52" x2="404.2" y2="375.52" stroke="#222" stroke-width="1.1"/>
<line x1="490.13" y1="463.3" x2="490.13" y2="460.7" stroke="#222" stroke-width="1.1"/>
<line x1="401.6" y1="366.3" x2="404.2" y2="366.3" stroke="#222" stroke-width="1.1"/>
<line x1="499.35" y1="463.3" x2="499.35" y2="460.7" stroke="#222" stroke-width="1.1"/>
<line x1="401.6" y1="357.08" x2="404.2" y2="357.08" stroke="#222" stroke-width="1.1"/>
<line x1="508.56" y1="463.3" x2="508.56" y2="460.7" stroke="#222" stroke-width="1.1"/>
<line x1="401.6" y1="347.86" x2="406.6" y2="347.86" stroke="#222" stroke-width="1.3"/>
<line x1="517.78" y1="463.3" x2="517.78" y2="458.3" stroke="#222" stroke-width="1.3"/>
<line x1="401.6" y1="338.64" x2="404.2" y2="338.64" stroke="#222" stroke-width="1.1"/>
<line x1="527" y1="463.3" x2="527" y2="460.7" stroke="#222" stroke-width="1.1"/>
<line x1="401.6" y1="329.42" x2="404.2" y2="329.42" stroke="#222" stroke-width="1.1"/>
<line x1="536.21" y1="463.3" x2="536.21" y2="460.7" stroke="#222" stroke-width="1.1"/>
<line x1="401.6" y1="320.2" x2="404.2" y2="320.2" stroke="#222" stroke-width="1.1"/>
<line x1="545.42" y1="463.3" x2="545.42" y2="460.7" stroke="#222" stroke-width="1.1"/>
<line x1="401.6" y1="310.98" x2="406.6" y2="310.98" stroke="#222" stroke-width="1.3"/>
<line x1="554.64" y1="463.3" x2="554.64" y2="458.3" stroke="#222" stroke-width="1.3"/>
<line x1="401.6" y1="301.76" x2="404.2" y2="301.76" stroke="#222" stroke-width="1.1"/>
<line x1="563.86" y1="463.3" x2="563.86" y2="460.7" stroke="#222" stroke-width="1.1"/>
<line x1="401.6" y1="292.54" x2="404.2" y2="292.54" stroke="#222" stroke-width="1.1"/>
<line x1="573.07" y1="463.3" x2="573.07" y2="460.7" stroke="#222" stroke-width="1.1"/>
<line x1="401.6" y1="283.32" x2="404.2" y2="283.32" stroke="#222" stroke-width="1.1"/>
<line x1="582.28" y1="463.3" x2="582.28" y2="460.7" stroke="#222" stroke-width="1.1"/>
<line x1="401.6" y1="274.1" x2="406.6" y2="274.1" stroke="#222" stroke-width="1.3"/>
<line x1="591.5" y1="463.3" x2="591.5" y2="458.3" stroke="#222" stroke-width="1.3"/>
<text x="395.8" y="463.5" text-anchor="end" class="t">0</text>
<text x="407.7" y="481" text-anchor="middle" class="t">0</text>
<text x="395.8" y="426.62" text-anchor="end" class="t">20</text>
<text x="444.56" y="481" text-anchor="middle" class="t">20</text>
<text x="395.8" y="389.74" text-anchor="end" class="t">40</text>
<text x="481.42" y="481" text-anchor="middle" class="t">40</text>
<text x="395.8" y="352.86" text-anchor="end" class="t">60</text>
<text x="518.28" y="481" text-anchor="middle" class="t">60</text>
<text x="395.8" y="315.98" text-anchor="end" class="t">80</text>
<text x="555.14" y="481" text-anchor="middle" class="t">80</text>
<text x="395.8" y="279.1" text-anchor="end" class="t">100</text>
<text x="592" y="481" text-anchor="middle" class="t">100</text>
<text x="499.35" y="501.6" text-anchor="middle" class="t">100-Specificity</text>
<text transform="translate(364.3,367.5) rotate(-90)" text-anchor="middle" class="t">Sensitivity</text>
<text x="653.6" y="294.5" class="p">(d)</text>
<rect x="601.6" y="356.4" width="81.8" height="91.8" fill="#fff" stroke="#222" stroke-width="1.4"/>
<line x1="608.1" y1="368.5" x2="633.2" y2="368.5" stroke="#44449c" stroke-width="1.2"/>
<text transform="translate(639.2,372.8) scale(0.92,1)" class="l">Δ</text>
<text x="650" y="372.8" class="l">FBS</text>
<line x1="608.1" y1="385.1" x2="633.2" y2="385.1" stroke="#6a8a6c" stroke-width="1.6"/>
<text transform="translate(640.35,389.2) scale(0.92,1)" class="l">Δ</text>
<text x="650" y="389.2" class="l">HDL</text>
<line x1="608.1" y1="401.7" x2="633.2" y2="401.7" stroke="#f08c62" stroke-width="1.5"/>
<text transform="translate(641.05,405.6) scale(0.92,1)" class="l">Δ</text>
<text x="650" y="405.6" class="l">TG</text>
<line x1="608.1" y1="418.3" x2="633.2" y2="418.3" stroke="#303a32" stroke-width="1.3" stroke-dasharray="2.2,0.8,1,0.8"/>
<text transform="translate(640,421.9) scale(0.92,1)" class="l">Δ</text>
<text x="650" y="421.9" class="l">WC</text>
<line x1="608.1" y1="434.9" x2="633.2" y2="434.9" stroke="#d444d4" stroke-width="1.4" stroke-dasharray="2.2,0.8,1,0.8"/>
<text transform="translate(639.75,437.3) scale(0.92,1)" class="l">Δ</text>
<text x="650" y="437.3" class="l">BMI</text></g>
</svg></body></html>
